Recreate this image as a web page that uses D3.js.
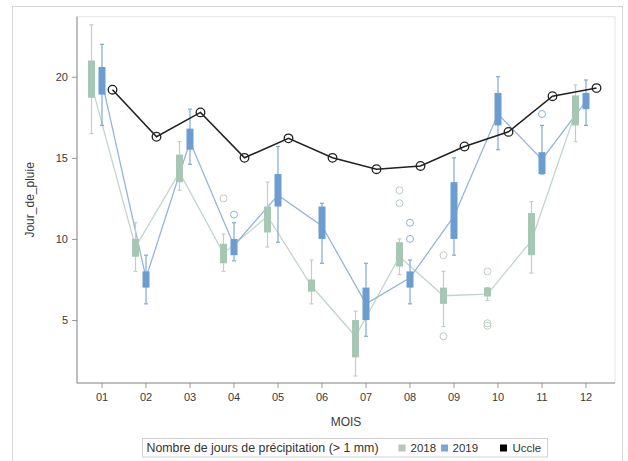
<!DOCTYPE html>
<html><head><meta charset="utf-8">
<script src="https://cdn.jsdelivr.net/npm/d3@7"></script>
<style>
html,body{margin:0;padding:0;background:#fff;}
text{font-family:"Liberation Sans",Arial,sans-serif;}
</style></head>
<body>
<svg id="chart" width="628" height="461"></svg>
<script>
const months = ["01","02","03","04","05","06","07","08","09","10","11","12"];
const yTicks = [5,10,15,20];

// 2018 box statistics
const lo2018   = [16.5, 8.0, 13.0, 8.0, 9.5, 6.0, 1.55, 7.8, 4.6, 6.2, 7.9, 16.0];
const q1_2018  = [18.7, 8.9, 13.5, 8.5, 10.4, 6.75, 2.7, 8.3, 6.0, 6.45, 9.0, 17.0];
const q3_2018  = [21.0, 10.0, 15.2, 9.7, 12.0, 7.5, 5.0, 9.8, 7.0, 7.0, 11.6, 18.85];
const hi2018   = [23.2, 11.0, 16.0, 10.3, 13.5, 8.7, 5.55, 10.0, 8.0, 7.0, 12.3, 19.5];
const mean2018 = [19.5, 9.5, 14.1, 9.1, 11.4, 7.1, 4.0, 8.9, 6.5, 6.6, 9.9, 17.8];
const out2018  = [["04",12.5],["08",13.0],["08",12.2],["09",9.0],["09",4.0],["10",8.0],["10",4.8],["10",4.65]];

// 2019 box statistics
const lo2019   = [17.0, 6.0, 14.6, 8.65, 9.8, 8.5, 4.0, 6.0, 9.0, 15.5, 14.0, 17.0];
const q1_2019  = [18.9, 7.0, 15.5, 9.0, 12.0, 10.0, 5.0, 7.0, 10.0, 17.0, 14.0, 18.0];
const q3_2019  = [20.6, 8.0, 16.8, 10.0, 14.0, 12.0, 7.0, 8.0, 13.5, 19.0, 15.35, 19.0];
const hi2019   = [22.0, 9.0, 18.0, 11.0, 15.7, 12.2, 8.5, 8.7, 15.0, 20.0, 17.0, 19.8];
const mean2019 = [19.7, 7.6, 16.0, 9.6, 12.7, 10.8, 6.0, 7.6, 11.4, 17.7, 14.9, 18.5];
const out2019  = [["04",11.5],["08",11.0],["08",10.0],["11",17.7]];

// Uccle normals
const uccle = [19.2, 16.3, 17.8, 15.0, 16.2, 15.0, 14.3, 14.5, 15.7, 16.6, 18.8, 19.3];

const svg = d3.select("#chart");
const L = 77, R = 615, T = 16.7, B = 383;

// outer frame
svg.append("rect").attr("x",12.5).attr("y",6.5).attr("width",610).attr("height",480)
  .attr("fill","none").attr("stroke","#d6d6d6");
// plot frame
svg.append("rect").attr("x",L).attr("y",T).attr("width",R-L).attr("height",B-T)
  .attr("fill","none").attr("stroke","#e4e4e4");

const x = d3.scaleBand().domain(months).range([80,608]);
const cx = m => x(m) + x.bandwidth()/2;
const y = d3.scaleLinear().domain([1.12,23.7]).range([B,T]);
const off = {g2018:-10.5, g2019:0, uccle:10.5};

// axes
const ya = svg.append("g").attr("transform",`translate(${L},0)`)
  .call(d3.axisLeft(y).tickValues(yTicks).tickSize(5).tickPadding(4));
ya.select(".domain").remove();
const xa = svg.append("g").attr("transform",`translate(0,${B})`)
  .call(d3.axisBottom(x).tickSize(5).tickPadding(5));
xa.select(".domain").remove();
[ya,xa].forEach(a=>{
  a.selectAll(".tick line").attr("stroke","#999");
  a.selectAll(".tick text").attr("fill","#3a3a3a").style("font-size","11px");
});
svg.append("line").attr("x1",L).attr("x2",L).attr("y1",T).attr("y2",B).attr("stroke","#8c8c8c");
svg.append("line").attr("x1",L).attr("x2",R).attr("y1",B).attr("y2",B).attr("stroke","#8c8c8c");

svg.append("text").attr("transform",`translate(34,${(T+B)/2}) rotate(-90)`)
  .attr("text-anchor","middle").attr("fill","#3a3a3a").style("font-size","12px").text("Jour_de_pluie");
svg.append("text").attr("x",(L+R)/2).attr("y",426).attr("text-anchor","middle")
  .attr("fill","#3a3a3a").style("font-size","12px").text("MOIS");

const groups = [
  {key:"g2018", lo:lo2018, q1:q1_2018, q3:q3_2018, hi:hi2018, mean:mean2018, out:out2018,
   fill:"#a6c7b4", whisk:"#bdd1c6", line:"#c3d5cb", outc:"#bfcdc3"},
  {key:"g2019", lo:lo2019, q1:q1_2019, q3:q3_2019, hi:hi2019, mean:mean2019, out:out2019,
   fill:"#6b9dd0", whisk:"#80a9d5", line:"#94b5da", outc:"#8fb0d6"}
];

// mean connect lines
groups.forEach(g=>{
  const ln = d3.line().x((d,i)=>cx(months[i])+off[g.key]).y(d=>y(d));
  svg.append("path").attr("d",ln(g.mean)).attr("fill","none")
    .attr("stroke",g.line).attr("stroke-width",1.3);
});

// boxes
const bw = 7;
groups.forEach(g=>{
  const gg = svg.append("g");
  months.forEach((m,i)=>{
    const xc = cx(m)+off[g.key];
    gg.append("line").attr("x1",xc).attr("x2",xc).attr("y1",y(g.hi[i])).attr("y2",y(g.lo[i]))
      .attr("stroke",g.whisk).attr("stroke-width",1.2);
    [g.hi[i], g.lo[i]].forEach(v=>{
      gg.append("line").attr("x1",xc-2).attr("x2",xc+2).attr("y1",y(v)).attr("y2",y(v))
        .attr("stroke",g.whisk).attr("stroke-width",1.2);
    });
    gg.append("rect").attr("x",xc-bw/2).attr("width",bw)
      .attr("y",y(g.q3[i])).attr("height",Math.max(1,y(g.q1[i])-y(g.q3[i])))
      .attr("fill",g.fill);
  });
  g.out.forEach(([m,v])=>{
    gg.append("circle").attr("cx",cx(m)+off[g.key]).attr("cy",y(v)).attr("r",3.5)
      .attr("fill","none").attr("stroke",g.outc).attr("stroke-width",1);
  });
});

// Uccle
const ul = d3.line().x((d,i)=>cx(months[i])+off.uccle).y(d=>y(d));
svg.append("path").attr("d",ul(uccle)).attr("fill","none").attr("stroke","#222").attr("stroke-width",1.6);
svg.selectAll(".uc").data(uccle).enter().append("circle")
  .attr("cx",(d,i)=>cx(months[i])+off.uccle).attr("cy",d=>y(d)).attr("r",4.3)
  .attr("fill","none").attr("stroke","#222").attr("stroke-width",1.3);

// legend
const lg = svg.append("g");
lg.append("rect").attr("x",142.5).attr("y",438.5).attr("width",405).attr("height",18.5)
  .attr("fill","#fff").attr("stroke","#d0d0d0");
lg.append("text").attr("x",146.5).attr("y",452).attr("fill","#333").style("font-size","12px")
  .attr("textLength",232).attr("lengthAdjust","spacingAndGlyphs")
  .text("Nombre de jours de précipitation (> 1 mm)");
const items = [{sx:398.5,tx:410.5,c:"#b8c6be",t:"2018"},{sx:441,tx:452.5,c:"#7aa6d6",t:"2019"},{sx:500,tx:512.5,c:"#000",t:"Uccle"}];
items.forEach(it=>{
  lg.append("rect").attr("x",it.sx).attr("y",444.5).attr("width",7).attr("height",7).attr("fill",it.c);
  lg.append("text").attr("x",it.tx).attr("y",452).attr("fill","#333").style("font-size","11.5px").text(it.t);
});
</script>
</body></html>
